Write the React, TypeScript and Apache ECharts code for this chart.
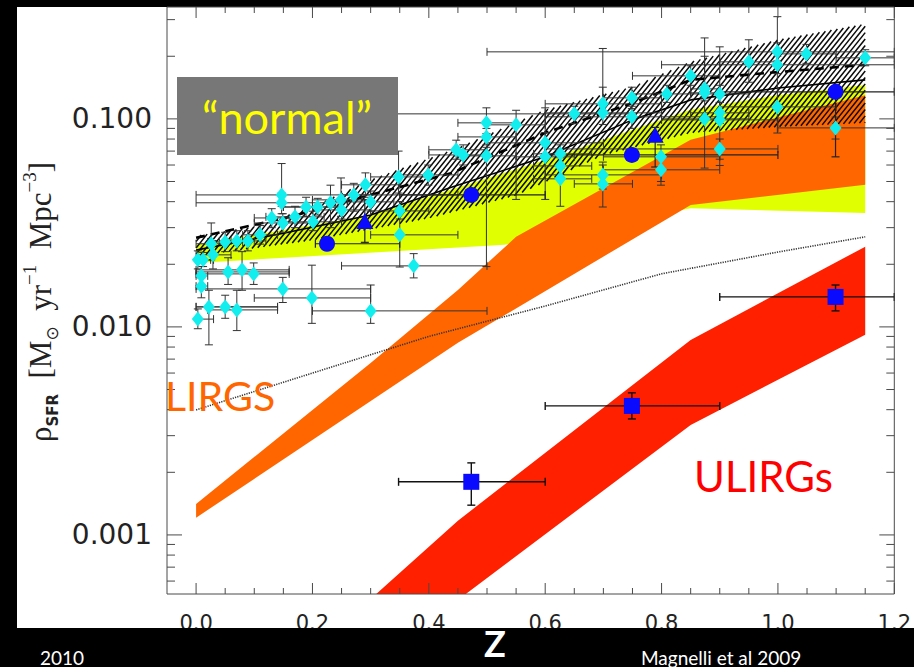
import React, { useEffect, useRef } from 'react';
import * as echarts from 'echarts';

// ---------- axes ----------
const X_MIN = -0.05;
const X_MAX = 1.2;
const Y_MIN = 0.00052;
const Y_MAX = 0.345;
const xMajorTicks = [0, 0.2, 0.4, 0.6, 0.8, 1.0, 1.2];
const xMinorTicks = [0.05, 0.1, 0.15, 0.25, 0.3, 0.35, 0.45, 0.5, 0.55, 0.65, 0.7, 0.75, 0.85, 0.9, 0.95, 1.05, 1.1, 1.15];
const yMajorTicks = [0.001, 0.01, 0.1];
const yMinorTicks = [0.0006, 0.0007, 0.0008, 0.0009, 0.002, 0.003, 0.004, 0.005, 0.006, 0.007, 0.008, 0.009,
  0.02, 0.03, 0.04, 0.05, 0.06, 0.07, 0.08, 0.09, 0.2, 0.3];

// ---------- bands ----------
const yellowTopZ = [0, 0.3, 0.6, 0.85, 1.0, 1.15];
const yellowTopV = [0.0248, 0.0345, 0.0635, 0.1105, 0.130, 0.1456];
const yellowBotZ = [0, 0.53, 0.85, 1.15];
const yellowBotV = [0.0203, 0.0248, 0.0372, 0.0353];

const lirgTopZ = [0, 0.3, 0.45, 0.55, 0.85, 1.15];
const lirgTopV = [0.00141, 0.00671, 0.01505, 0.0271, 0.0793, 0.130];
const lirgBotZ = [0, 0.45, 0.85, 1.15];
const lirgBotV = [0.00121, 0.00838, 0.0386, 0.0482];

const ulirgTopZ = [0.3, 0.45, 0.85, 1.15];
const ulirgTopV = [0.000492, 0.00117, 0.00866, 0.0243];
const ulirgBotZ = [0.45, 0.85, 1.15];
const ulirgBotV = [0.000487, 0.00338, 0.00916];

const hatchTopZ = [0, 0.1, 0.2, 0.3, 0.45, 0.6, 0.75, 0.85, 1.0, 1.15];
const hatchTopV = [0.0274, 0.0303, 0.0377, 0.0509, 0.0725, 0.1105, 0.1425, 0.188, 0.240, 0.286];
const hatchBotZ = [0, 0.2, 0.4, 0.55, 0.7, 0.85, 1.0, 1.15];
const hatchBotV = [0.0219, 0.0261, 0.0333, 0.0429, 0.067, 0.0856, 0.0915, 0.0957];

// ---------- curves ----------
const dashedZ = [0, 0.16, 0.3, 0.44, 0.6, 0.75, 0.85, 1.0, 1.15];
const dashedV = [0.0268, 0.0338, 0.0431, 0.055, 0.0857, 0.119, 0.154, 0.168, 0.182];
const solidZ = [0, 0.15, 0.3, 0.44, 0.6, 0.75, 0.85, 1.0, 1.15];
const solidV = [0.0234, 0.0282, 0.0345, 0.047, 0.0657, 0.0989, 0.1234, 0.1407, 0.154];
const dottedZ = [0, 0.2, 0.4, 0.6, 0.8, 1.0, 1.15];
const dottedV = [0.00399, 0.0060, 0.0090, 0.0126, 0.0180, 0.0229, 0.0271];

// ---------- points: [z, rho, zLow, zHigh, rhoLow, rhoHigh] ----------
const compilationPoints = [
  [0.003, 0.0210, 0, 0.03, 0.0190, 0.0232],
  [0.012, 0.0210, 0, 0.025, 0.0195, 0.0228],
  [0.009, 0.0176, 0, 0.02, 0.0160, 0.0195],
  [0.009, 0.0157, 0, 0.02, 0.0138, 0.0172],
  [0.003, 0.0109, 0, 0.03, 0.0098, 0.0122],
  [0.022, 0.01248, 0, 0.14, 0.0082, 0.0150],
  [0.050, 0.01248, 0, 0.14, 0.0110, 0.0142],
  [0.070, 0.01207, 0.02, 0.14, 0.0096, 0.0150],
  [0.026, 0.0251, 0, 0.05, 0.0210, 0.0316],
  [0.029, 0.0222, 0, 0.06, 0.0190, 0.0260],
  [0.050, 0.0256, 0.02, 0.08, 0.0230, 0.0285],
  [0.070, 0.0259, 0.04, 0.10, 0.0232, 0.0290],
  [0.089, 0.0259, 0.06, 0.12, 0.0232, 0.0290],
  [0.110, 0.0277, 0.08, 0.14, 0.0250, 0.0307],
  [0.130, 0.0334, 0.10, 0.16, 0.0300, 0.0370],
  [0.147, 0.0431, 0.0, 0.45, 0.0380, 0.0610],
  [0.147, 0.0395, 0.0, 0.20, 0.0350, 0.0440],
  [0.149, 0.0316, 0.10, 0.20, 0.0285, 0.0350],
  [0.170, 0.0338, 0.12, 0.22, 0.0300, 0.0380],
  [0.189, 0.0377, 0.15, 0.25, 0.0340, 0.0420],
  [0.209, 0.0377, 0.15, 0.25, 0.0345, 0.0415],
  [0.201, 0.0320, 0.15, 0.25, 0.0290, 0.0360],
  [0.231, 0.0395, 0.20, 0.26, 0.0300, 0.0480],
  [0.249, 0.0408, 0.20, 0.30, 0.0340, 0.0520],
  [0.250, 0.0365, 0.20, 0.30, 0.0330, 0.0400],
  [0.271, 0.0431, 0.25, 0.30, 0.0360, 0.0490],
  [0.291, 0.0482, 0.25, 0.35, 0.0420, 0.0550],
  [0.300, 0.0399, 0.26, 0.34, 0.0360, 0.0450],
  [0.348, 0.0526, 0.30, 0.40, 0.0440, 0.0700],
  [0.350, 0.0361, 0.30, 0.40, 0.0330, 0.0400],
  [0.350, 0.0277, 0.30, 0.45, 0.0194, 0.0400],
  [0.399, 0.0538, 0.35, 0.45, 0.0480, 0.0600],
  [0.374, 0.01965, 0.25, 0.50, 0.0172, 0.0225],
  [0.055, 0.01838, 0.0, 0.16, 0.0160, 0.0215],
  [0.079, 0.0188, 0.0, 0.16, 0.0150, 0.0230],
  [0.099, 0.01798, 0.0, 0.16, 0.0160, 0.0203],
  [0.149, 0.01523, 0.0, 0.30, 0.0131, 0.0173],
  [0.199, 0.01378, 0.10, 0.30, 0.0104, 0.0198],
  [0.300, 0.01194, 0.20, 0.50, 0.0104, 0.0159],
  [0.447, 0.0710, 0.40, 0.50, 0.0640, 0.0790],
  [0.459, 0.0671, 0.40, 0.50, 0.0600, 0.0750],
  [0.499, 0.0957, 0.45, 0.55, 0.0850, 0.1130],
  [0.499, 0.0819, 0.45, 0.55, 0.0750, 0.0900],
  [0.499, 0.0664, 0.45, 0.55, 0.0195, 0.0730],
  [0.550, 0.0936, 0.50, 0.60, 0.0410, 0.1100],
  [0.600, 0.0767, 0.50, 0.70, 0.0680, 0.0860],
  [0.600, 0.0657, 0.55, 0.65, 0.0410, 0.1130],
  [0.626, 0.0679, 0.58, 0.68, 0.0600, 0.0750],
  [0.626, 0.0594, 0.58, 0.68, 0.0540, 0.0650],
  [0.626, 0.0515, 0.58, 0.68, 0.0380, 0.0580],
  [0.650, 0.1057, 0.30, 0.75, 0.0950, 0.1150],
  [0.699, 0.1181, 0.60, 0.80, 0.1050, 0.1420],
  [0.699, 0.1069, 0.60, 0.80, 0.0940, 0.2180],
  [0.699, 0.0538, 0.60, 0.80, 0.0460, 0.0620],
  [0.699, 0.0487, 0.65, 0.75, 0.0377, 0.0600],
  [0.749, 0.1262, 0.70, 0.80, 0.1120, 0.1420],
  [0.749, 0.1023, 0.60, 0.90, 0.0900, 0.1150],
  [0.799, 0.0657, 0.70, 0.90, 0.0480, 0.0750],
  [0.799, 0.0569, 0.70, 0.90, 0.0500, 0.0650],
  [0.809, 0.1318, 0.75, 0.85, 0.1200, 0.1450],
  [0.850, 0.1610, 0.75, 0.90, 0.1450, 0.1800],
  [0.874, 0.1394, 0.85, 0.90, 0.1250, 0.2000],
  [0.874, 0.1334, 0.85, 0.90, 0.1220, 0.1450],
  [0.874, 0.1000, 0.80, 0.95, 0.0580, 0.2450],
  [0.900, 0.1318, 0.85, 0.95, 0.1200, 0.1450],
  [0.900, 0.1069, 0.85, 0.95, 0.0950, 0.1200],
  [0.900, 0.0989, 0.80, 1.00, 0.0597, 0.2220],
  [0.900, 0.0717, 0.60, 1.00, 0.0640, 0.0800],
  [0.950, 0.1880, 0.90, 1.00, 0.1500, 0.2400],
  [0.999, 0.2100, 0.50, 1.20, 0.1900, 0.2320],
  [0.999, 0.1820, 0.80, 1.20, 0.1650, 0.2000],
  [0.999, 0.1142, 0.90, 1.10, 0.0855, 0.3100],
  [1.049, 0.2053, 1.00, 1.10, 0.1850, 0.2280],
  [1.099, 0.0905, 1.00, 1.20, 0.0800, 0.1020],
  [1.150, 0.1965, 1.10, 1.20, 0.1800, 0.2150],
];
const circlePoints = [
  [0.225, 0.0251, 0.205, 0.35, 0.0251, 0.0251],
  [0.473, 0.0431, 0.35, 0.60, 0.0431, 0.0431],
  [0.749, 0.0671, 0.60, 1.00, 0.0671, 0.0671],
  [1.099, 0.1349, 0.90, 1.20, 0.0657, 0.1400],
];
const trianglePoints = [
  [0.290, 0.0323, 0.290, 0.290, 0.0255, 0.0408],
  [0.789, 0.0838, 0.789, 0.789, 0.0587, 0.0910],
];
const ulirgPoints = [
  [0.473, 0.0018, 0.348, 0.60, 0.00139, 0.00222],
  [0.749, 0.00417, 0.60, 0.90, 0.00361, 0.00482],
  [1.099, 0.01394, 0.90, 1.20, 0.01194, 0.0159],
];

const AXIS_COLOR = '#4a4a4a';

function bandSeries(topZ: number[], topV: number[], botZ: number[], botV: number[], color: string, z: number) {
  return {
    type: 'custom', silent: true, clip: true, z,
    data: [[topZ[0], topV[0]]],
    renderItem: (_p: any, api: any) => {
      const pts: number[][] = [];
      topZ.forEach((zz, i) => pts.push(api.coord([zz, topV[i]])));
      for (let i = botZ.length - 1; i >= 0; i--) pts.push(api.coord([botZ[i], botV[i]]));
      return { type: 'polygon', shape: { points: pts }, style: { fill: color } };
    },
  };
}

function hatchLines(poly: number[][], spacing: number, slope: number) {
  const vals = poly.map((p) => slope * p[0] + p[1]);
  const cMin = Math.min(...vals);
  const cMax = Math.max(...vals);
  const step = spacing * Math.sqrt(slope * slope + 1);
  const out: any[] = [];
  for (let c = Math.ceil(cMin / step) * step; c <= cMax; c += step) {
    const xs: number[][] = [];
    for (let i = 0; i < poly.length; i++) {
      const a = poly[i];
      const b = poly[(i + 1) % poly.length];
      const fa = slope * a[0] + a[1] - c;
      const fb = slope * b[0] + b[1] - c;
      if ((fa < 0) !== (fb < 0)) {
        const t = fa / (fa - fb);
        xs.push([a[0] + t * (b[0] - a[0]), a[1] + t * (b[1] - a[1])]);
      }
    }
    xs.sort((p, q) => p[0] - q[0]);
    for (let k = 0; k + 1 < xs.length; k += 2) {
      out.push({
        type: 'line',
        shape: { x1: xs[k][0], y1: xs[k][1], x2: xs[k + 1][0], y2: xs[k + 1][1] },
        style: { stroke: '#0a0a0a', lineWidth: 1.5 },
      });
    }
  }
  return out;
}

function errorSeries(points: number[][], color: string, width: number, z: number) {
  return {
    type: 'custom', silent: true, clip: true, z,
    data: points,
    renderItem: (_p: any, api: any) => {
      const c = api.coord([api.value(0), api.value(1)]);
      const l = api.coord([api.value(2), api.value(1)]);
      const r = api.coord([api.value(3), api.value(1)]);
      const lo = api.coord([api.value(0), api.value(4)]);
      const hi = api.coord([api.value(0), api.value(5)]);
      const cap = 4;
      const st = { stroke: color, lineWidth: width };
      const ln = (x1: number, y1: number, x2: number, y2: number) => ({ type: 'line', shape: { x1, y1, x2, y2 }, style: st });
      const ch: any[] = [];
      if (r[0] - l[0] > 1) {
        ch.push(ln(l[0], c[1], r[0], c[1]));
        ch.push(ln(l[0], c[1] - cap, l[0], c[1] + cap));
        ch.push(ln(r[0], c[1] - cap, r[0], c[1] + cap));
      }
      if (lo[1] - hi[1] > 1) {
        ch.push(ln(c[0], lo[1], c[0], hi[1]));
        ch.push(ln(c[0] - cap, lo[1], c[0] + cap, lo[1]));
        ch.push(ln(c[0] - cap, hi[1], c[0] + cap, hi[1]));
      }
      return { type: 'group', children: ch };
    },
  };
}

const isPow10 = (v: number) => Math.abs(Math.log10(v) - Math.round(Math.log10(v))) < 1e-6;
const isMajorX = (v: number) => Math.abs(v / 0.2 - Math.round(v / 0.2)) < 1e-6;

function buildOption() {
  return {
    animation: false,
    backgroundColor: 'transparent',
    grid: { left: 167, top: 7, width: 730, height: 587, show: false },
    xAxis: {
      type: 'value', min: X_MIN, max: X_MAX, splitNumber: 6, minInterval: 0.2, maxInterval: 0.2,
      axisLine: { show: false }, axisTick: { show: false }, splitLine: { show: false },
      axisLabel: {
        margin: 18, fontSize: 21, lineHeight: 22, fontFamily: 'DejaVu Sans', color: '#222',
        formatter: (v: number) => (isMajorX(v) && v >= -1e-9 ? v.toFixed(1) : ''),
      },
    },
    yAxis: {
      type: 'log', logBase: 10, min: Y_MIN, max: Y_MAX,
      axisLine: { show: false }, axisTick: { show: false }, splitLine: { show: false },
      axisLabel: {
        margin: 15, fontSize: 28, fontFamily: 'DejaVu Sans', color: '#222',
        formatter: (v: number) => (isPow10(v) ? v.toFixed(3) : ''),
      },
    },
    series: [
      bandSeries(yellowTopZ, yellowTopV, yellowBotZ, yellowBotV, '#e0ff00', 1),
      bandSeries(lirgTopZ, lirgTopV, lirgBotZ, lirgBotV, '#ff6600', 2),
      {
        type: 'custom', silent: true, clip: true, z: 3,
        data: [[hatchTopZ[0], hatchTopV[0]]],
        renderItem: (_p: any, api: any) => {
          const pts: number[][] = [];
          hatchTopZ.forEach((zz, i) => pts.push(api.coord([zz, hatchTopV[i]])));
          for (let i = hatchBotZ.length - 1; i >= 0; i--) pts.push(api.coord([hatchBotZ[i], hatchBotV[i]]));
          return { type: 'group', children: hatchLines(pts, 4, 1.25) };
        },
      },
      bandSeries(ulirgTopZ, ulirgTopV, ulirgBotZ, ulirgBotV, '#ff2000', 3),
      {
        type: 'line', z: 4, silent: true, showSymbol: false,
        data: dottedZ.map((zz, i) => [zz, dottedV[i]]),
        lineStyle: { color: '#333', width: 1.6, type: [1.2, 1.2] },
      },
      {
        type: 'line', z: 5, silent: true, showSymbol: false,
        data: solidZ.map((zz, i) => [zz, solidV[i]]),
        lineStyle: { color: '#000', width: 1.6 },
      },
      {
        type: 'line', z: 5, silent: true, showSymbol: false,
        data: dashedZ.map((zz, i) => [zz, dashedV[i]]),
        lineStyle: { color: '#000', width: 2.6, type: [9, 6] },
      },
      errorSeries(compilationPoints, '#333', 1, 6),
      errorSeries(circlePoints, '#222', 1.2, 6),
      errorSeries(trianglePoints, '#222', 1.2, 6),
      errorSeries(ulirgPoints, '#111', 1.4, 6),
      {
        type: 'scatter', z: 7, silent: true, symbol: 'diamond', symbolSize: [12, 15],
        itemStyle: { color: '#12eeee', opacity: 1 },
        data: compilationPoints.map((p) => [p[0], p[1]]),
      },
      {
        type: 'scatter', z: 8, silent: true, symbol: 'circle', symbolSize: 16,
        itemStyle: { color: '#0a0aff', opacity: 1 },
        data: circlePoints.map((p) => [p[0], p[1]]),
      },
      {
        type: 'scatter', z: 8, silent: true, symbol: 'triangle', symbolSize: [17, 16],
        itemStyle: { color: '#0a0aff', opacity: 1 },
        data: trianglePoints.map((p) => [p[0], p[1]]),
      },
      {
        type: 'scatter', z: 8, silent: true, symbol: 'rect', symbolSize: 16,
        itemStyle: { color: '#0a0aff', opacity: 1 },
        data: ulirgPoints.map((p) => [p[0], p[1]]),
      },
      {
        type: 'custom', silent: true, clip: false, z: 9,
        data: [[0, 0.01]],
        renderItem: (params: any, api: any) => {
          const cs = params.coordSys;
          const left = cs.x, top = cs.y, right = cs.x + cs.width, bottom = cs.y + cs.height;
          const ch: any[] = [];
          const st = { stroke: AXIS_COLOR, lineWidth: 1 };
          const L = (x1: number, y1: number, x2: number, y2: number) =>
            ch.push({ type: 'line', shape: { x1, y1, x2, y2 }, style: st });
          xMajorTicks.forEach((t) => {
            const x = api.coord([t, 0.01])[0];
            L(x, bottom, x, bottom - 11); L(x, top, x, top + 11);
          });
          xMinorTicks.forEach((t) => {
            const x = api.coord([t, 0.01])[0];
            L(x, bottom, x, bottom - 6); L(x, top, x, top + 6);
          });
          yMajorTicks.forEach((t) => {
            const y = api.coord([0, t])[1];
            L(left, y, left + 15, y); L(right, y, right - 15, y);
          });
          yMinorTicks.forEach((t) => {
            const y = api.coord([0, t])[1];
            L(left, y, left + 8, y); L(right, y, right - 8, y);
          });
          ch.push({ type: 'rect', shape: { x: left, y: top, width: right - left, height: bottom - top },
            style: { fill: 'none', stroke: AXIS_COLOR, lineWidth: 1 } });
          return { type: 'group', children: ch };
        },
      },
    ],
    graphic: {
      elements: [
        { type: 'rect', z: 50, shape: { x: 177, y: 77, width: 221, height: 78 }, style: { fill: '#777777' } },
        {
          type: 'text', z: 51, x: 287, y: 117,
          style: { text: '\u201cnormal\u201d', fill: '#ffff00', fontSize: 45, fontFamily: 'Lato',
            align: 'center', verticalAlign: 'middle', textAlign: 'center', textVerticalAlign: 'middle' },
        },
        {
          type: 'text', z: 51, x: 165, y: 395,
          style: { text: 'LIRGS', fill: '#ff6600', fontSize: 41, fontFamily: 'Lato',
            align: 'left', verticalAlign: 'middle', textAlign: 'left', textVerticalAlign: 'middle' },
        },
        {
          type: 'text', z: 51, x: 694, y: 476,
          style: { text: 'ULIRGs', fill: '#ff0000', fontSize: 42, fontFamily: 'Lato',
            align: 'left', verticalAlign: 'middle', textAlign: 'left', textVerticalAlign: 'middle' },
        },
        {
          type: 'text', z: 51, x: 40, y: 302, rotation: Math.PI / 2,
          style: {
            text: '{m|\u03c1}{s|SFR}{m|  [M}{u|\u2299}{m|  yr}{p|\u22121}{m|  Mpc}{p|\u22123}{m|]}',
            align: 'center', verticalAlign: 'middle', textAlign: 'center', textVerticalAlign: 'middle',
            fill: '#222',
            rich: {
              m: { fontFamily: 'Liberation Serif', fontSize: 31, lineHeight: 40, fill: '#222', color: '#222' },
              s: { fontFamily: 'DejaVu Sans', fontWeight: 'bold', fontSize: 15, lineHeight: 16, verticalAlign: 'bottom', fill: '#222', color: '#222' },
              u: { fontFamily: 'DejaVu Sans', fontSize: 17, lineHeight: 18, verticalAlign: 'bottom', fill: '#222', color: '#222' },
              p: { fontFamily: 'Liberation Serif', fontSize: 19, lineHeight: 18, verticalAlign: 'top', fill: '#222', color: '#222' },
            },
          },
        },
        { type: 'rect', z: 60, shape: { x: 0, y: 628, width: 914, height: 39 }, style: { fill: '#000' } },
        {
          type: 'text', z: 61, x: 495, y: 643,
          style: { text: 'Z', fill: '#ffffff', fontSize: 36, lineHeight: 32, fontWeight: 'bold', fontFamily: 'Lato',
            align: 'center', verticalAlign: 'middle', textAlign: 'center', textVerticalAlign: 'middle' },
        },
        {
          type: 'text', z: 61, x: 40, y: 666,
          style: { text: '2010', fill: '#ffffff', fontSize: 19, lineHeight: 18, fontFamily: 'Lato',
            align: 'left', verticalAlign: 'bottom', textAlign: 'left', textVerticalAlign: 'bottom' },
        },
        {
          type: 'text', z: 61, x: 641, y: 666,
          style: { text: 'Magnelli et al 2009', fill: '#ffffff', fontSize: 19, lineHeight: 18, fontFamily: 'Lato',
            align: 'left', verticalAlign: 'bottom', textAlign: 'left', textVerticalAlign: 'bottom' },
        },
      ],
    },
  };
}

export default function App() {
  const ref = useRef<HTMLDivElement>(null);
  useEffect(() => {
    const chart = echarts.init(ref.current as HTMLDivElement, null, { renderer: 'svg' });
    chart.setOption(buildOption() as any);
    return () => chart.dispose();
  }, []);
  return (
    <div style={{ position: 'absolute', left: 0, top: 0, width: 914, height: 667, background: '#000', overflow: 'hidden' }}>
      <div style={{ position: 'absolute', left: 17, top: 7, width: 897, height: 621, background: '#fff' }} />
      <div ref={ref} style={{ position: 'absolute', left: 0, top: 0, width: 914, height: 667 }} />
    </div>
  );
}
